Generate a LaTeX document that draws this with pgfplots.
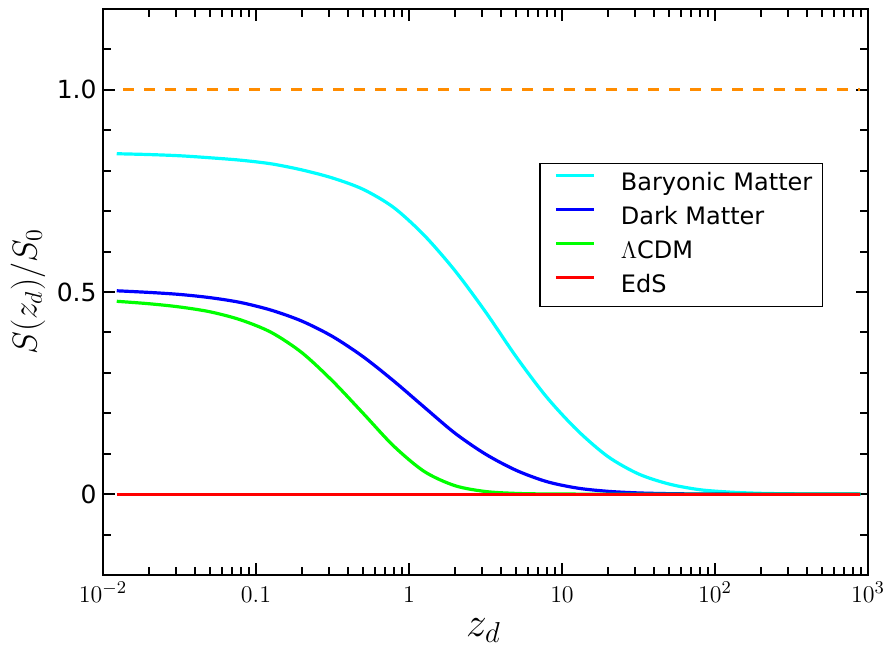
\documentclass[border=0pt]{standalone}
\usepackage{fontspec}
\setmainfont{DejaVu Sans}
\usepackage{pgfplots}
\pgfplotsset{compat=1.18}
\definecolor{myorange}{RGB}{255,140,0}
\definecolor{mycyan}{RGB}{0,255,255}
\definecolor{myblue}{RGB}{0,0,255}
\definecolor{mygreen}{RGB}{0,255,0}
\definecolor{myred}{RGB}{255,0,0}

\begin{document}
\begin{tikzpicture}
\begin{axis}[
  scale only axis, width=382.5pt, height=283pt,
  xmode=log, xmin=0.01, xmax=1000, ymin=-0.2, ymax=1.2,
  xtick={0.01,0.1,1,10,100,1000},
  xticklabels={$10^{-2}$,$0.1$,$1$,$10$,$10^{2}$,$10^{3}$},
  minor xtick={0.02,0.03,0.04,0.05,0.06,0.07,0.08,0.09,0.2,0.3,0.4,0.5,0.6,0.7,0.8,0.9,2,3,4,5,6,7,8,9,20,30,40,50,60,70,80,90,200,300,400,500,600,700,800,900},
  ytick={0,0.5,1}, yticklabels={0,0.5,1.0},
  minor ytick={-0.2,-0.1,0.1,0.2,0.3,0.4,0.6,0.7,0.8,0.9,1.1,1.2},
  tick align=inside,
  major tick length=6pt, minor tick length=4pt,
  every tick/.style={black, line width=1pt},
  axis line style={line width=1pt},
  ticklabel style={font=\fontsize{12.5}{15}\selectfont},
  yticklabel style={anchor=east, inner sep=0pt, xshift=-3pt},
  xticklabel style={anchor=base, inner sep=0pt, yshift=-13.5pt},
  xlabel={$z_d$}, ylabel={$S(z_d)/S_0$},
  xlabel style={font=\fontsize{19.5}{23}\selectfont, at={(axis description cs:0.5,0)}, anchor=base, inner sep=0pt, yshift=-30.5pt, xshift=-1pt},
  ylabel style={font=\fontsize{17.5}{21}\selectfont, at={(axis description cs:0,0.5)}, anchor=center, yshift=37.5pt},
  legend style={at={(0.570,0.7285)}, anchor=north west, draw=black, line width=0.8pt,
    font=\fontsize{12}{14}\selectfont, inner xsep=5pt, inner ysep=4.3pt,
    nodes={inner sep=0pt, text height=9pt, text depth=3pt}, row sep=5pt},
  legend cell align=left,
  legend image code/.code={\path[draw=none,fill=none] (0pt,0pt) -- (35.5pt,0pt); \draw[#1,line width=1.6pt] (3pt,4.2pt) -- (22pt,4.2pt);},
]
\addplot[myorange, line width=1.6pt, dash pattern=on 5.5pt off 5pt, dash phase=7.35pt, forget plot] coordinates {(0.0123,1) (891,1)};
\addplot[mycyan, line width=1.6pt, smooth] coordinates {
(0.0123,0.842) (0.01995,0.840) (0.03162,0.837) (0.05012,0.832) (0.07943,0.826) (0.1259,0.817) (0.1995,0.802) (0.3162,0.782) (0.5012,0.754) (0.7943,0.709) (1.259,0.640) (1.995,0.553) (3.162,0.451) (5.012,0.340) (7.943,0.240) (12.59,0.158) (19.95,0.093) (31.62,0.050) (50.12,0.025) (79.43,0.011) (125.9,0.005) (199.5,0.002) (316.2,0.0008) (501.2,0.0003) (891,0.0001)};
\addlegendentry{Baryonic Matter}
\addplot[myblue, line width=1.6pt, smooth] coordinates {
(0.0123,0.503) (0.01995,0.499) (0.03162,0.494) (0.05012,0.486) (0.07943,0.474) (0.1259,0.455) (0.1995,0.428) (0.3162,0.390) (0.5012,0.340) (0.7943,0.280) (1.259,0.215) (1.995,0.151) (3.162,0.099) (5.012,0.059) (7.943,0.031) (12.59,0.015) (19.95,0.007) (31.62,0.003) (50.12,0.0012) (79.43,0.0004) (125.9,0.0001) (199.5,0) (316.2,0) (501.2,0) (891,0)};
\addlegendentry{Dark Matter}
\addplot[mygreen, line width=1.6pt, smooth] coordinates {
(0.0123,0.477) (0.01995,0.471) (0.03162,0.463) (0.05012,0.451) (0.07943,0.431) (0.1259,0.400) (0.1995,0.350) (0.3162,0.280) (0.5012,0.200) (0.7943,0.119) (1.259,0.056) (1.995,0.021) (3.162,0.0065) (5.012,0.0018) (7.943,0.0004) (12.59,0.0001) (19.95,0) (50.12,0) (125.9,0) (316.2,0) (891,0)};
\addlegendentry{$\Lambda$CDM}
\addplot[myred, line width=1.6pt] coordinates {(0.0123,0) (891,0)};
\addlegendentry{EdS}
\end{axis}
\pgfresetboundingbox
\path (current axis.south west) ++(-51.5pt,-36.5pt) coordinate (bbA);
\path (current axis.south west) ++(395pt,287.5pt) coordinate (bbB);
\path (bbA) rectangle (bbB);
\end{tikzpicture}
\end{document}
